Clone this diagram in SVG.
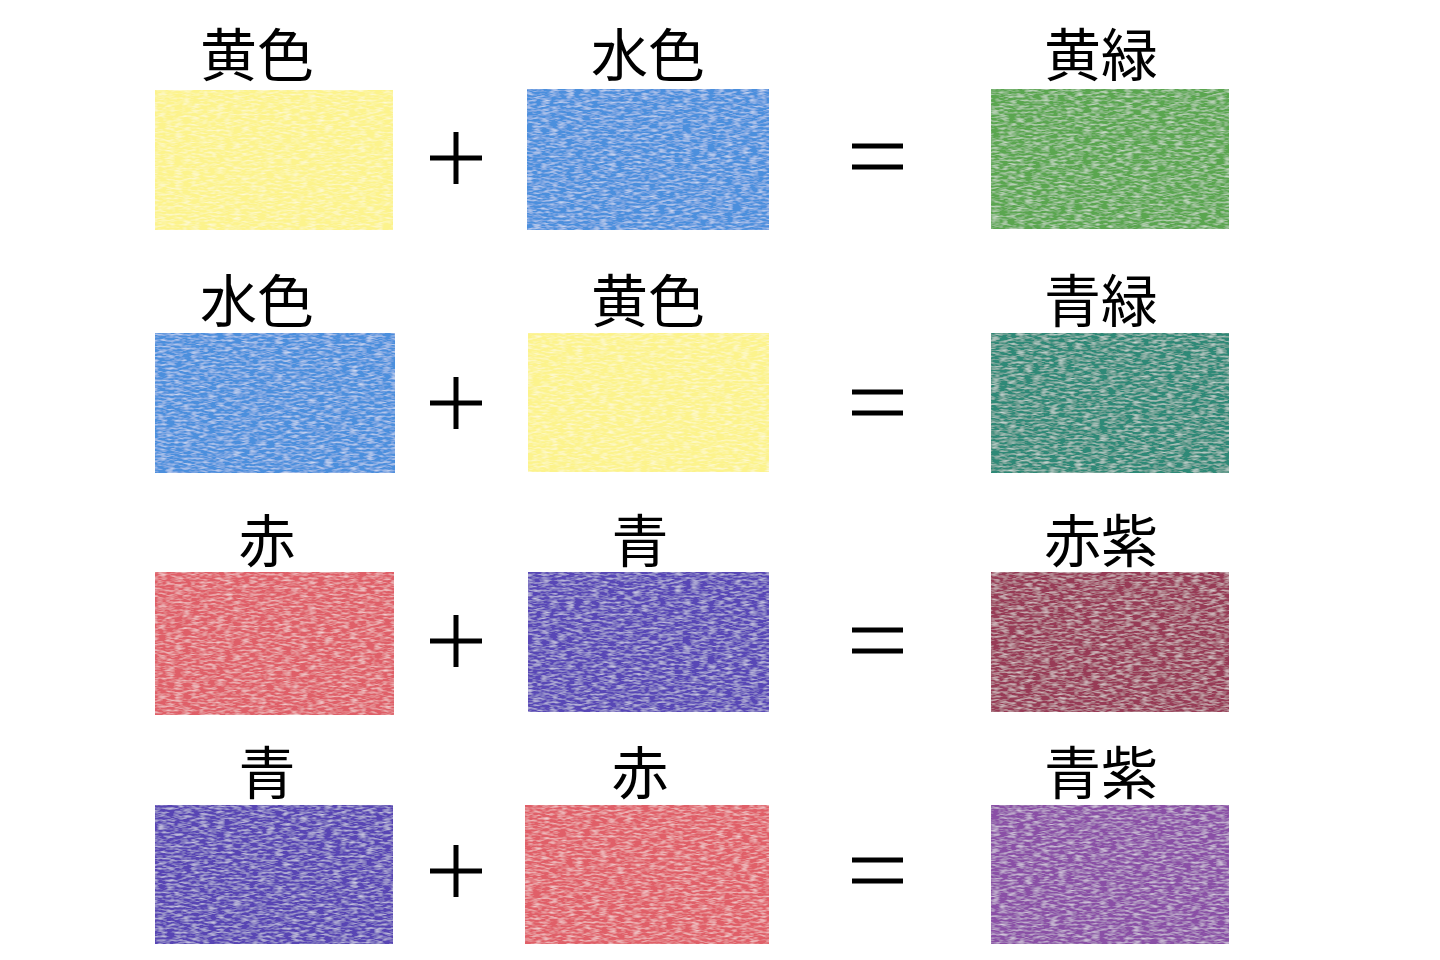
<svg xmlns="http://www.w3.org/2000/svg" width="1440" height="960" viewBox="0 0 1440 960">
<style>
.lbl{font-family:"Noto Sans CJK JP","Noto Sans CJK SC",sans-serif;font-size:57px;fill:#000;text-anchor:middle}
.op{stroke:#000;stroke-width:5;fill:none}
.sw{filter:url(#crayon)}
</style>
<defs>
<filter id="crayon" x="0" y="0" width="100%" height="100%">
<feTurbulence type="fractalNoise" baseFrequency="0.12 0.5" numOctaves="2" seed="4" result="n"/>
<feColorMatrix in="n" type="matrix" values="0 0 0 0 1  0 0 0 0 1  0 0 0 0 1  0 0 0 -1.2 0.7" result="w"/>
<feComposite in="w" in2="SourceGraphic" operator="in" result="wm"/>
<feMerge><feMergeNode in="SourceGraphic"/><feMergeNode in="wm"/></feMerge>
</filter>
</defs>
<rect width="1440" height="960" fill="#fff"/>

<g id="row1">
<g id="r1a"><text class="lbl" x="257" y="76">黄色</text><rect class="sw" x="155" y="90" width="238" height="140" fill="#fcf38c"/></g>
<g id="r1plus"><path class="op" d="M430 158H482M456 132V184"/></g>
<g id="r1b"><text class="lbl" x="648" y="76">水色</text><rect class="sw" x="527" y="89" width="242" height="141" fill="#4b8fdd"/></g>
<g id="r1eq"><path class="op" d="M852 146H903M852 167H903"/></g>
<g id="r1c"><text class="lbl" x="1101" y="76">黄緑</text><rect class="sw" x="991" y="89" width="238" height="140" fill="#5aa64f"/></g>
</g>

<g id="row2">
<g id="r2a"><text class="lbl" x="257" y="322">水色</text><rect class="sw" x="155" y="333" width="240" height="140" fill="#4b8fdd"/></g>
<g id="r2plus"><path class="op" d="M430 403H482M456 377V429"/></g>
<g id="r2b"><text class="lbl" x="648" y="322">黄色</text><rect class="sw" x="528" y="333" width="241" height="139" fill="#fcf38c"/></g>
<g id="r2eq"><path class="op" d="M852 392H903M852 413H903"/></g>
<g id="r2c"><text class="lbl" x="1101" y="322">青緑</text><rect class="sw" x="991" y="333" width="238" height="140" fill="#2f8977"/></g>
</g>

<g id="row3">
<g id="r3a"><text class="lbl" x="267" y="562">赤</text><rect class="sw" x="155" y="572" width="239" height="143" fill="#df5e67"/></g>
<g id="r3plus"><path class="op" d="M430 641H482M456 615V667"/></g>
<g id="r3b"><text class="lbl" x="640" y="562">青</text><rect class="sw" x="528" y="572" width="241" height="140" fill="#5946b6"/></g>
<g id="r3eq"><path class="op" d="M852 630H903M852 651H903"/></g>
<g id="r3c"><text class="lbl" x="1101" y="562">赤紫</text><rect class="sw" x="991" y="572" width="238" height="140" fill="#973a57"/></g>
</g>

<g id="row4">
<g id="r4a"><text class="lbl" x="267" y="794">青</text><rect class="sw" x="155" y="805" width="238" height="139" fill="#5844b4"/></g>
<g id="r4plus"><path class="op" d="M430 871H482M456 845V897"/></g>
<g id="r4b"><text class="lbl" x="640" y="794">赤</text><rect class="sw" x="525" y="805" width="244" height="139" fill="#e05f67"/></g>
<g id="r4eq"><path class="op" d="M852 860H903M852 881H903"/></g>
<g id="r4c"><text class="lbl" x="1101" y="794">青紫</text><rect class="sw" x="991" y="805" width="238" height="139" fill="#8a4fa6"/></g>
</g>
</svg>
